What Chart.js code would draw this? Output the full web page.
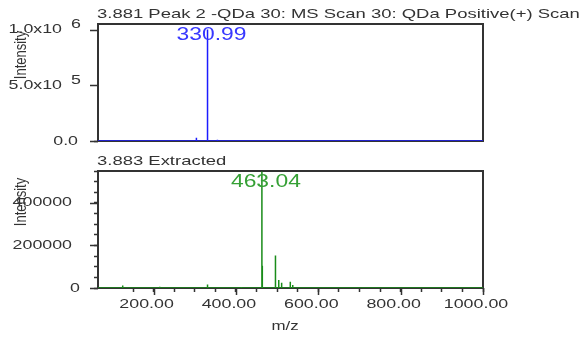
<!DOCTYPE html>
<html>
<head>
<meta charset="utf-8">
<script src="https://cdn.jsdelivr.net/npm/chart.js@4.4.0/dist/chart.umd.min.js"></script>
<style>
  html, body { margin: 0; padding: 0; background: #fff; }
  #wrap { position: relative; width: 580px; height: 338px; }
  .panel { position: absolute; left: 0; width: 580px; }
  #top { top: 0; height: 150px; }
  #bottom { top: 150px; height: 188px; }
</style>
</head>
<body>
<div id="wrap">
  <div class="panel" id="top"><canvas id="scan"></canvas></div>
  <div class="panel" id="bottom"><canvas id="extracted"></canvas></div>
</div>
<script>
(function () {
    "use strict";

    // Data
    var mzMin = 65;
    var mzMax = 1000;
    var mzLabels = [200, 400, 600, 800, 1000];

    var scanTitle = "3.881 Peak 2 -QDa 30: MS Scan 30: QDa Positive(+) Scan";
    var scanPeak = 330.99;
    var scanMz = [112, 304, 330.99, 340, 355, 430, 610];
    var scanIntensity = [4000, 30000, 1000000, 5000, 12000, 3000, 2000];
    var scanYLabels = [
        {v: 1000000, m: "1.0x10", e: "6"},
        {v: 500000, m: "5.0x10", e: "5"},
        {v: 0, m: "0.0", e: ""}
    ];

    var extractedTitle = "3.883 Extracted";
    var extractedPeak = 463.04;
    var extractedMz = [125, 215, 331, 413, 463.04, 464.05, 496, 504, 511, 532, 538, 560];
    var extractedIntensity = [12000, 6000, 16000, 5000, 548000, 105000, 153000, 38000, 25000, 29000, 14000, 4000];
    var extractedYLabels = [
        {v: 400000, m: "400000"},
        {v: 200000, m: "200000"},
        {v: 0, m: "0"}
    ];

    var font = '"Liberation Sans", Arial, sans-serif';
    var ink = "#333";

    // build a stick spectrum out of the peak list
    function sticks(mz, intensity) {
        var pts = [{x: mzMin, y: 0}];
        for (var i = 0; i < mz.length; i++) {
            pts.push({x: mz[i], y: 0});
            pts.push({x: mz[i], y: intensity[i]});
            pts.push({x: mz[i], y: 0});
        }
        pts.push({x: mzMax, y: 0});
        return pts;
    }

    // text squeezed wide like the original export
    function txt(ctx, s, x, y, align, size, color, sx) {
        ctx.save();
        ctx.translate(x, y);
        ctx.scale(sx, 1);
        ctx.font = size + "px " + font;
        ctx.fillStyle = color;
        ctx.textAlign = align;
        ctx.textBaseline = "middle";
        ctx.fillText(s, 0, 0);
        ctx.restore();
    }

    // Frame, long major ticks, labels, titles
    var decor = {
        id: "decor",
        beforeDatasetsDraw: function (chart) {
            var a = chart.chartArea, ctx = chart.ctx;
            ctx.save();
            ctx.strokeStyle = ink;
            ctx.lineWidth = 2;
            ctx.strokeRect(a.left, a.top, a.right - a.left, a.bottom - a.top);
            ctx.restore();
        },
        afterDraw: function (chart, args, opts) {
            var a = chart.chartArea, ctx = chart.ctx;
            var xs = chart.scales.x, ys = chart.scales.y;

            ctx.save();
            ctx.strokeStyle = ink;
            ctx.lineWidth = 1.5;
            ctx.beginPath();
            opts.yLabels.forEach(function (l) {
                var py = Math.round(ys.getPixelForValue(l.v)) + 0.5;
                ctx.moveTo(a.left - 8, py);
                ctx.lineTo(a.left, py);
            });
            if (opts.xTitle) {
                mzLabels.forEach(function (v) {
                    var px = Math.round(xs.getPixelForValue(v)) + 0.5;
                    ctx.moveTo(px, a.bottom);
                    ctx.lineTo(px, a.bottom + 7);
                });
            }
            ctx.stroke();
            ctx.restore();

            txt(ctx, opts.title, a.left - 1, a.top - 10, "left", 13, ink, 1.42);
            txt(ctx, opts.peak.toFixed(2), xs.getPixelForValue(opts.peak) + 4, a.top + 11,
                "center", 18, opts.labelColor, 1.27);

            opts.yLabels.forEach(function (l) {
                var py = ys.getPixelForValue(l.v);
                if (l.e) {
                    txt(ctx, l.m, 62, py, "right", 13, ink, 1.37);
                    txt(ctx, l.e, 76, py - 5, "center", 13, ink, 1.37);
                } else if (l.m.length > 3) {
                    txt(ctx, l.m, 72, py, "right", 13, ink, 1.37);
                } else {
                    txt(ctx, l.m, l.v === 0 && l.m === "0" ? 80 : 78, py, "right", 13, ink, 1.37);
                }
            });

            if (opts.xTitle) {
                mzLabels.forEach(function (v) {
                    txt(ctx, v.toFixed(2), xs.getPixelForValue(v) - 7, a.bottom + 16, "center", 13, ink, 1.37);
                });
                txt(ctx, opts.xTitle, 285, a.bottom + 38, "center", 13, ink, 1.3);
            }

            ctx.save();
            ctx.translate(21, a.top + 31);
            ctx.scale(1.3, 1);
            ctx.rotate(-Math.PI / 2);
            ctx.font = "13px " + font;
            ctx.fillStyle = ink;
            ctx.textAlign = "center";
            ctx.textBaseline = "middle";
            ctx.fillText("Intensity", 0, 0);
            ctx.restore();
        }
    };

    function keepSteps(step) {
        return function (s) {
            s.ticks = s.ticks.filter(function (t) { return t.value % step === 0; });
        };
    }

    function makeChart(id, cfg) {
        var ctx = document.getElementById(id).getContext("2d");
        return new Chart(ctx, {
            type: "line",
            data: {
                datasets: [{
                    data: sticks(cfg.mz, cfg.intensity),
                    borderColor: cfg.lineColor,
                    borderWidth: 1.5,
                    pointRadius: 0,
                    tension: 0
                }]
            },
            options: {
                responsive: true,
                maintainAspectRatio: false,
                animation: false,
                layout: {padding: cfg.padding},
                plugins: {
                    legend: {display: false},
                    tooltip: {enabled: false},
                    decor: {
                        title: cfg.title,
                        peak: cfg.peak,
                        labelColor: cfg.labelColor,
                        yLabels: cfg.yLabels,
                        xTitle: cfg.xTitle
                    }
                },
                scales: {
                    x: {
                        type: "linear",
                        min: mzMin,
                        max: mzMax,
                        afterBuildTicks: keepSteps(50),
                        afterFit: function (s) {
                            s.height = cfg.xHeight;
                            s.paddingLeft = s.paddingRight = 0;
                        },
                        border: {display: false},
                        grid: {drawOnChartArea: false, drawTicks: cfg.xTicks, tickLength: 4, tickColor: ink, tickWidth: 1.5},
                        ticks: {display: false, stepSize: 50, autoSkip: false, maxRotation: 0}
                    },
                    y: {
                        min: 0,
                        max: cfg.yMax,
                        afterBuildTicks: keepSteps(cfg.yStep),
                        afterFit: function (s) {
                            s.width = 98;
                            s.paddingTop = s.paddingBottom = 0;
                        },
                        border: {display: false},
                        grid: {drawOnChartArea: false, tickLength: 4, tickColor: ink, tickWidth: 1.5},
                        ticks: {display: false, stepSize: cfg.yStep, autoSkip: false}
                    }
                }
            },
            plugins: [decor]
        });
    }

    // MS Scan
    makeChart("scan", {
        title: scanTitle,
        peak: scanPeak,
        mz: scanMz,
        intensity: scanIntensity,
        lineColor: "#1c1cff",
        labelColor: "#3838ff",
        yMax: 1050000,
        yStep: 100000,
        yLabels: scanYLabels,
        xTicks: false,
        xHeight: 0,
        padding: {left: 0, right: 97, top: 24, bottom: 9}
    });

    // Extracted
    makeChart("extracted", {
        title: extractedTitle,
        peak: extractedPeak,
        mz: extractedMz,
        intensity: extractedIntensity,
        lineColor: "#1a8c1a",
        labelColor: "#35a035",
        yMax: 550000,
        yStep: 50000,
        yLabels: extractedYLabels,
        xTicks: true,
        xHeight: 50,
        xTitle: "m/z",
        padding: {left: 0, right: 97, top: 21, bottom: 0}
    });

})();
</script>
</body>
</html>
